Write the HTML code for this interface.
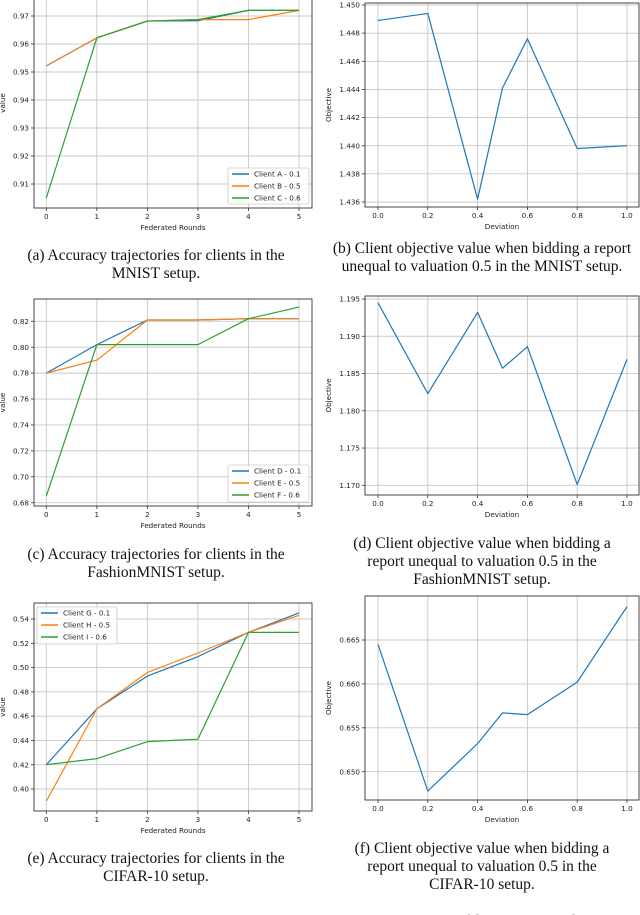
<!DOCTYPE html>
<html><head><meta charset="utf-8">
<style>
html,body{margin:0;padding:0;background:#fff;}
body{width:640px;height:915px;overflow:hidden;position:relative;}
svg{position:absolute;left:0;top:0;}
.cap{font-family:"Liberation Serif",serif;font-size:15.5px;fill:#111;text-anchor:middle;}
.tk{font-family:"DejaVu Sans","Liberation Sans",sans-serif;font-size:7.2px;fill:#222;}
</style></head>
<body>
<svg id="fig" width="640" height="915" viewBox="0 0 640 915">
<g id="charts"></g>
<g>
<text class="cap" x="156" y="260">(a) Accuracy trajectories for clients in the</text>
<text class="cap" x="156" y="278">MNIST setup.</text>
<text class="cap" x="482" y="253">(b) Client objective value when bidding a report</text>
<text class="cap" x="482" y="271">unequal to valuation 0.5 in the MNIST setup.</text>
<text class="cap" x="156" y="559">(c) Accuracy trajectories for clients in the</text>
<text class="cap" x="156" y="577">FashionMNIST setup.</text>
<text class="cap" x="482" y="548">(d) Client objective value when bidding a</text>
<text class="cap" x="482" y="566">report unequal to valuation 0.5 in the</text>
<text class="cap" x="482" y="584">FashionMNIST setup.</text>
<text class="cap" x="156" y="863">(e) Accuracy trajectories for clients in the</text>
<text class="cap" x="156" y="881">CIFAR-10 setup.</text>
<text class="cap" x="482" y="853">(f) Client objective value when bidding a</text>
<text class="cap" x="482" y="871">report unequal to valuation 0.5 in the</text>
<text class="cap" x="482" y="889">CIFAR-10 setup.</text>
<text x="0" y="926" style="font-family:'Liberation Serif',serif;font-size:16px;fill:#111;word-spacing:6px;letter-spacing:0.6px">e 1: Experiments for MNIST (top row), FashionMNIST (middle row), and CIFAR-10 (bottom</text>
</g>
</svg>
<script>
// ---- data ----
const rounds = [0,1,2,3,4,5];
const devs = [0,0.2,0.4,0.5,0.6,0.8,1.0];
const mnistA = [0.9522,0.9622,0.9682,0.9683,0.972,0.972];
const mnistB = [0.9522,0.9622,0.9682,0.9687,0.9687,0.972];
const mnistC = [0.905,0.9622,0.9682,0.9687,0.972,0.972];
const mnistObj = [1.4489,1.4494,1.4362,1.4441,1.4476,1.4398,1.4400];
const fashD = [0.78,0.802,0.821,0.821,0.822,0.822];
const fashE = [0.78,0.79,0.821,0.821,0.822,0.822];
const fashF = [0.685,0.802,0.802,0.802,0.822,0.831];
const fashObj = [1.1945,1.1823,1.1932,1.1857,1.1886,1.1701,1.1869];
const cifG = [0.42,0.466,0.493,0.509,0.529,0.545];
const cifH = [0.39,0.466,0.496,0.512,0.529,0.543];
const cifI = [0.42,0.425,0.439,0.441,0.529,0.529];
const cifObj = [0.6645,0.6478,0.6532,0.6567,0.6565,0.6602,0.6688];
const roundTicks = ['0','1','2','3','4','5'];
const devTicks = ['0.0','0.2','0.4','0.6','0.8','1.0'];
const mnistYTicks = ['0.91','0.92','0.93','0.94','0.95','0.96','0.97'];
const mnistObjTicks = ['1.436','1.438','1.440','1.442','1.444','1.446','1.448','1.450'];
const fashYTicks = ['0.68','0.70','0.72','0.74','0.76','0.78','0.80','0.82'];
const fashObjTicks = ['1.170','1.175','1.180','1.185','1.190','1.195'];
const cifYTicks = ['0.40','0.42','0.44','0.46','0.48','0.50','0.52','0.54'];
const cifObjTicks = ['0.650','0.655','0.660','0.665'];

const NS='http://www.w3.org/2000/svg';
const root=document.getElementById('charts');
function mk(tag,attrs,parent){const e=document.createElementNS(NS,tag);for(const k in attrs)e.setAttribute(k,attrs[k]);parent.appendChild(e);return e;}
const COLORS=['#1f77b4','#ff7f0e','#2ca02c'];

function chart(cfg){
  const g=mk('g',{},root);
  
  
  const sx=v=>cfg.x0+(v-cfg.xa)*(cfg.x1-cfg.x0)/(cfg.xb-cfg.xa);
  const sy=v=>cfg.y0+(v-cfg.ya)*(cfg.y1-cfg.y0)/(cfg.yb-cfg.ya);
  const clip='clip-'+cfg.name;
  const cp=mk('clipPath',{id:clip},g);
  mk('rect',{x:cfg.L,y:cfg.T,width:cfg.R-cfg.L,height:cfg.B-cfg.T},cp);
  cfg.xt.forEach(t=>{
    const x=sx(parseFloat(t));
    const gl=mk('line',{x1:x,x2:x,y1:cfg.T,y2:cfg.B,stroke:'#c8c8c8','stroke-width':0.9},g);
    
    
    mk('line',{x1:x,x2:x,y1:cfg.B,y2:cfg.B+3,stroke:'#333','stroke-width':0.8},g);
    const tx=mk('text',{x:x,y:cfg.B+11,'text-anchor':'middle',class:'tk'},g);
    tx.textContent=t;
    
    
  });
  cfg.yt.forEach(t=>{
    const y=sy(parseFloat(t));
    const gl=mk('line',{x1:cfg.L,x2:cfg.R,y1:y,y2:y,stroke:'#c8c8c8','stroke-width':0.9},g);
    
    
    mk('line',{x1:cfg.L-3,x2:cfg.L,y1:y,y2:y,stroke:'#333','stroke-width':0.8},g);
    const tx=mk('text',{x:cfg.L-5,y:y+2.6,'text-anchor':'end',class:'tk'},g);
    tx.textContent=t;
    
    
  });
  const lines=mk('g',{'clip-path':'url(#'+clip+')'},g);
  cfg.series.forEach((s,i)=>{
    const pts=s.vals.map((v,j)=>sx(cfg.xs[j]).toFixed(2)+','+sy(v).toFixed(2)).join(' ');
    const pl=mk('polyline',{points:pts,fill:'none',stroke:s.color,'stroke-width':1.2,'stroke-linejoin':'round'},lines);
    
    
  });
  const frame=mk('rect',{x:cfg.L,y:cfg.T,width:cfg.R-cfg.L,height:cfg.B-cfg.T,fill:'none',stroke:'#333','stroke-width':0.9},g);
  
  
  const xl=mk('text',{x:(cfg.L+cfg.R)/2,y:cfg.B+22,'text-anchor':'middle',class:'tk'},g);
  xl.textContent=cfg.xlabel;
  
  
  const ym=(cfg.T+cfg.B)/2;
  const yl=mk('text',{x:cfg.ylx,y:ym,'text-anchor':'middle',class:'tk',transform:'rotate(-90 '+cfg.ylx+' '+ym+')'},g);
  yl.textContent=cfg.ylabel;
  
  
  if(cfg.legend){
    const lg=cfg.legend;
    const lgG=mk('g',{},g);
    
    
    mk('rect',{x:lg.x,y:lg.y,width:lg.w,height:lg.h,rx:2,fill:'#fff','fill-opacity':0.85,stroke:'#ccc','stroke-width':0.8},lgG);
    cfg.series.forEach((s,i)=>{
      const yy=lg.y+6+i*12;
      const e=mk('g',{},lgG);
      
      
      mk('line',{x1:lg.x+4,x2:lg.x+21,y1:yy,y2:yy,stroke:s.color,'stroke-width':1.4},e);
      const t=mk('text',{x:lg.x+26,y:yy+2.6,class:'tk'},e);
      t.textContent=s.label;
    });
  }
}

chart({name:'mnist-accuracy-chart',L:34,R:312,T:-2,B:208,xa:0,xb:5,x0:46.3,x1:299,ya:0.97,yb:0.91,y0:16,y1:184,
  xs:rounds,xt:roundTicks,yt:mnistYTicks,xlabel:'Federated Rounds',ylabel:'value',ylx:5,
  series:[{key:'client-a',vals:mnistA,color:COLORS[0],label:'Client A - 0.1'},{key:'client-b',vals:mnistB,color:COLORS[1],label:'Client B - 0.5'},{key:'client-c',vals:mnistC,color:COLORS[2],label:'Client C - 0.6'}],
  legend:{x:228,y:168,w:81,h:36}});
chart({name:'mnist-objective-chart',L:365,R:639,T:3,B:207,xa:0,xb:1,x0:378,x1:627,ya:1.450,yb:1.436,y0:5,y1:202,
  xs:devs,xt:devTicks,yt:mnistObjTicks,xlabel:'Deviation',ylabel:'Objective',ylx:331,
  series:[{key:'objective',vals:mnistObj,color:COLORS[0]}]});
chart({name:'fashion-accuracy-chart',L:34,R:312,T:299,B:506,xa:0,xb:5,x0:46.3,x1:299,ya:0.82,yb:0.68,y0:321.3,y1:502.7,
  xs:rounds,xt:roundTicks,yt:fashYTicks,xlabel:'Federated Rounds',ylabel:'value',ylx:5,
  series:[{key:'client-d',vals:fashD,color:COLORS[0],label:'Client D - 0.1'},{key:'client-e',vals:fashE,color:COLORS[1],label:'Client E - 0.5'},{key:'client-f',vals:fashF,color:COLORS[2],label:'Client F - 0.6'}],
  legend:{x:228,y:465,w:81,h:37}});
chart({name:'fashion-objective-chart',L:365,R:639,T:296,B:495,xa:0,xb:1,x0:378,x1:627,ya:1.195,yb:1.170,y0:299,y1:485.3,
  xs:devs,xt:devTicks,yt:fashObjTicks,xlabel:'Deviation',ylabel:'Objective',ylx:331,
  series:[{key:'objective',vals:fashObj,color:COLORS[0]}]});
chart({name:'cifar-accuracy-chart',L:34,R:312,T:603,B:811,xa:0,xb:5,x0:46.3,x1:299,ya:0.54,yb:0.40,y0:619,y1:789,
  xs:rounds,xt:roundTicks,yt:cifYTicks,xlabel:'Federated Rounds',ylabel:'value',ylx:5,
  series:[{key:'client-g',vals:cifG,color:COLORS[0],label:'Client G - 0.1'},{key:'client-h',vals:cifH,color:COLORS[1],label:'Client H - 0.5'},{key:'client-i',vals:cifI,color:COLORS[2],label:'Client I - 0.6'}],
  legend:{x:37,y:607,w:80,h:37}});
chart({name:'cifar-objective-chart',L:365,R:639,T:596,B:800,xa:0,xb:1,x0:378,x1:627,ya:0.665,yb:0.650,y0:640,y1:771.7,
  xs:devs,xt:devTicks,yt:cifObjTicks,xlabel:'Deviation',ylabel:'Objective',ylx:331,
  series:[{key:'objective',vals:cifObj,color:COLORS[0]}]});
</script>
</body></html>
